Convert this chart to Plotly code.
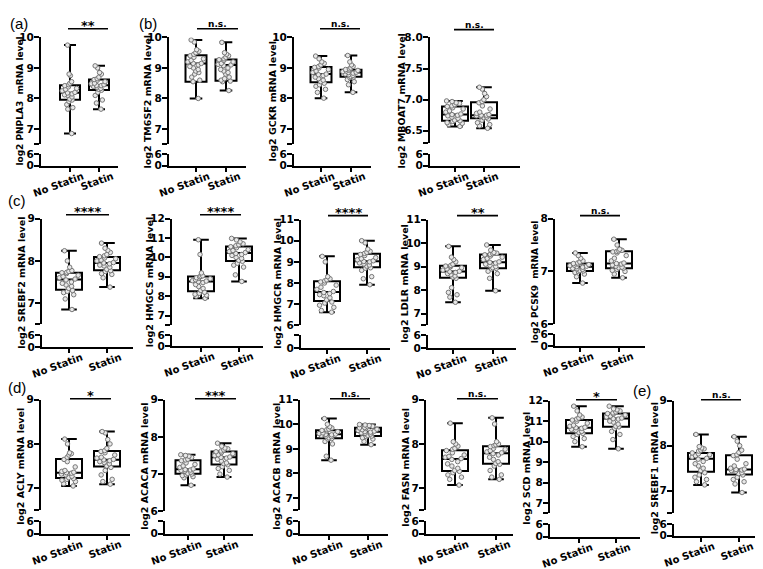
import plotly.graph_objects as go

W, H = 763, 569

# ---------------- data ----------------
categories = ["No Statin", "Statin"]
genes = ["PNPLA3", "TM6SF2", "GCKR", "MBOAT7", "SREBF2", "HMGCS", "HMGCR", "LDLR",
         "PCSK9", "ACLY", "ACACA", "ACACB", "FASN", "SCD", "SREBF1"]
y_titles = ["log2 PNPLA3\u00a0 mRNA level", "log2 TM6SF2 mRNA level", "log2 GCKR mRNA level",
            "log2 MBOAT7 mRNA level", "log2 SREBF2 mRNA level", "log2 HMGCS mRNA level",
            "log2 HMGCR mRNA level", "log2 LDLR mRNA level", "log2 PCSK9\u00a0 mRNA level",
            "log2 ACLY mRNA level", "log2 ACACA mRNA level", "log2 ACACB mRNA level",
            "log2 FASN mRNA level", "log2 SCD mRNA level", "log2 SREBF1 mRNA level"]
significance = ["**", "n.s.", "n.s.", "n.s.", "****", "****", "****", "**", "n.s.",
                "*", "***", "n.s.", "n.s.", "*", "n.s."]
panel_letters = ["(a)", "(b)", "(c)", "(d)", "(e)"]

upper_ticks = [[7, 8, 9, 10], [7, 8, 9, 10], [7, 8, 9, 10], [6.5, 7.0, 7.5, 8.0],
               [7, 8, 9], [7, 8, 9, 10, 11, 12], [6, 7, 8, 9, 10, 11], [7, 8, 9, 10, 11],
               [6, 7, 8], [7, 8, 9], [6, 7, 8, 9], [7, 8, 9, 10, 11], [7, 8, 9],
               [7, 8, 9, 10, 11, 12], [7, 8, 9]]
upper_min = [6.5, 6.5, 6.5, 6.3, 6.5, 6.5, 6.0, 6.5, 6.0, 6.5, 6.0, 6.5, 6.5, 6.5, 6.5]
lower_ticks = [0, 6]
lower_top_labelled = [True, True, True, True, True, True, False, True, True,
                      True, False, True, True, True, True]

# box statistics: [min, q1, median, q3, max]
PNPLA3_no_box = [6.85, 7.96, 8.19, 8.43, 9.75]
PNPLA3_st_box = [7.65, 8.28, 8.43, 8.62, 9.07]
TM6SF2_no_box = [8.00, 8.55, 9.15, 9.42, 9.92]
TM6SF2_st_box = [8.26, 8.58, 9.10, 9.28, 9.84]
GCKR_no_box = [8.01, 8.53, 8.80, 9.03, 9.39]
GCKR_st_box = [8.20, 8.71, 8.85, 8.94, 9.41]
MBOAT7_no_box = [6.57, 6.66, 6.76, 6.89, 6.98]
MBOAT7_st_box = [6.54, 6.70, 6.75, 6.96, 7.20]
SREBF2_no_box = [6.85, 7.32, 7.56, 7.72, 8.24]
SREBF2_st_box = [7.38, 7.78, 7.95, 8.09, 8.42]
HMGCS_no_box = [7.89, 8.26, 8.76, 9.02, 10.91]
HMGCS_st_box = [8.76, 9.82, 10.22, 10.56, 10.98]
HMGCR_no_box = [6.62, 7.15, 7.57, 8.08, 9.26]
HMGCR_st_box = [7.92, 8.74, 9.03, 9.38, 10.00]
LDLR_no_box = [7.48, 8.52, 8.79, 9.03, 9.86]
LDLR_st_box = [7.97, 8.93, 9.18, 9.51, 9.92]
PCSK9_no_box = [6.78, 7.01, 7.09, 7.15, 7.35]
PCSK9_st_box = [6.88, 7.06, 7.15, 7.38, 7.61]
ACLY_no_box = [7.05, 7.23, 7.35, 7.66, 8.11]
ACLY_st_box = [7.09, 7.49, 7.64, 7.84, 8.28]
ACACA_no_box = [6.70, 7.01, 7.13, 7.37, 7.52]
ACACA_st_box = [6.92, 7.26, 7.45, 7.61, 7.83]
ACACB_no_box = [8.54, 9.43, 9.59, 9.76, 10.23]
ACACB_st_box = [9.17, 9.52, 9.70, 9.86, 9.99]
FASN_no_box = [7.07, 7.39, 7.66, 7.86, 8.47]
FASN_st_box = [7.20, 7.55, 7.79, 7.95, 8.59]
SCD_no_box = [9.75, 10.41, 10.68, 11.05, 11.73]
SCD_st_box = [9.65, 10.73, 11.13, 11.37, 11.73]
SREBF1_no_box = [7.13, 7.42, 7.71, 7.84, 8.25]
SREBF1_st_box = [6.96, 7.36, 7.47, 7.79, 8.20]

# individual samples (estimated from the dots)
PNPLA3_no = [6.85, 7.65, 7.7, 7.8, 7.9, 7.95, 7.98, 8.05, 8.1, 8.12, 8.15, 8.18, 8.2, 8.25, 8.3, 8.33, 8.38, 8.42, 8.45, 8.5, 8.55, 8.75, 8.8, 9.75]
PNPLA3_st = [7.65, 7.85, 7.95, 8.1, 8.2, 8.27, 8.3, 8.33, 8.37, 8.4, 8.42, 8.43, 8.45, 8.48, 8.5, 8.55, 8.6, 8.62, 8.65, 8.7, 8.8, 8.85, 9.0, 9.07]
TM6SF2_no = [8.0, 8.55, 8.6, 8.7, 8.8, 8.85, 8.9, 8.95, 9.0, 9.05, 9.1, 9.15, 9.15, 9.2, 9.25, 9.3, 9.35, 9.4, 9.45, 9.5, 9.55, 9.6, 9.85, 9.92]
TM6SF2_st = [8.26, 8.55, 8.57, 8.6, 8.65, 8.7, 8.8, 8.85, 8.9, 8.95, 9.0, 9.08, 9.1, 9.12, 9.15, 9.2, 9.25, 9.27, 9.3, 9.35, 9.4, 9.45, 9.5, 9.84]
GCKR_no = [8.01, 8.2, 8.3, 8.4, 8.45, 8.5, 8.55, 8.6, 8.65, 8.7, 8.75, 8.78, 8.8, 8.85, 8.9, 8.95, 9.0, 9.02, 9.05, 9.1, 9.15, 9.2, 9.3, 9.39]
GCKR_st = [8.2, 8.45, 8.55, 8.62, 8.68, 8.7, 8.72, 8.75, 8.78, 8.8, 8.83, 8.85, 8.86, 8.88, 8.9, 8.92, 8.93, 8.95, 8.97, 9.0, 9.05, 9.1, 9.2, 9.41]
MBOAT7_no = [6.57, 6.6, 6.62, 6.63, 6.65, 6.66, 6.67, 6.7, 6.72, 6.74, 6.75, 6.76, 6.77, 6.8, 6.82, 6.85, 6.87, 6.89, 6.9, 6.92, 6.94, 6.95, 6.97, 6.98]
MBOAT7_st = [6.54, 6.58, 6.6, 6.63, 6.67, 6.69, 6.71, 6.72, 6.73, 6.74, 6.75, 6.75, 6.76, 6.78, 6.8, 6.85, 6.9, 6.95, 6.97, 7.0, 7.05, 7.1, 7.17, 7.2]
SREBF2_no = [6.85, 7.1, 7.2, 7.25, 7.28, 7.3, 7.35, 7.4, 7.43, 7.47, 7.5, 7.55, 7.57, 7.6, 7.63, 7.66, 7.7, 7.72, 7.73, 7.75, 7.77, 7.85, 8.0, 8.24]
SREBF2_st = [7.38, 7.6, 7.68, 7.7, 7.75, 7.77, 7.8, 7.85, 7.88, 7.9, 7.93, 7.95, 7.96, 8.0, 8.02, 8.05, 8.07, 8.1, 8.12, 8.15, 8.2, 8.25, 8.3, 8.42]
HMGCS_no = [7.89, 8.0, 8.05, 8.1, 8.15, 8.2, 8.3, 8.4, 8.5, 8.6, 8.7, 8.75, 8.78, 8.8, 8.85, 8.9, 8.92, 8.95, 9.0, 9.02, 9.05, 9.2, 10.15, 10.91]
HMGCS_st = [8.76, 9.1, 9.5, 9.6, 9.7, 9.8, 9.85, 9.95, 10.0, 10.1, 10.15, 10.2, 10.25, 10.3, 10.35, 10.4, 10.5, 10.55, 10.6, 10.65, 10.7, 10.8, 10.9, 10.98]
HMGCR_no = [6.62, 6.7, 6.85, 6.95, 7.05, 7.1, 7.2, 7.3, 7.4, 7.45, 7.5, 7.55, 7.6, 7.7, 7.8, 7.9, 8.0, 8.05, 8.1, 8.15, 8.2, 8.3, 9.0, 9.26]
HMGCR_st = [7.92, 8.2, 8.3, 8.6, 8.7, 8.72, 8.8, 8.85, 8.9, 8.95, 9.0, 9.02, 9.05, 9.1, 9.15, 9.2, 9.3, 9.35, 9.4, 9.45, 9.5, 9.6, 9.9, 10.0]
LDLR_no = [7.48, 7.7, 7.8, 7.9, 8.1, 8.5, 8.55, 8.6, 8.65, 8.7, 8.75, 8.78, 8.8, 8.85, 8.9, 8.95, 9.0, 9.02, 9.05, 9.1, 9.2, 9.3, 9.4, 9.86]
LDLR_st = [7.97, 8.5, 8.7, 8.8, 8.9, 8.92, 8.95, 9.0, 9.05, 9.1, 9.15, 9.18, 9.2, 9.3, 9.35, 9.4, 9.45, 9.5, 9.52, 9.55, 9.57, 9.6, 9.7, 9.92]
PCSK9_no = [6.78, 6.9, 6.95, 6.98, 7.0, 7.01, 7.02, 7.04, 7.05, 7.06, 7.08, 7.09, 7.1, 7.11, 7.12, 7.13, 7.14, 7.15, 7.16, 7.18, 7.2, 7.25, 7.3, 7.35]
PCSK9_st = [6.88, 6.95, 7.0, 7.02, 7.04, 7.06, 7.07, 7.08, 7.1, 7.12, 7.14, 7.15, 7.16, 7.2, 7.25, 7.3, 7.35, 7.37, 7.38, 7.39, 7.4, 7.42, 7.5, 7.61]
ACLY_no = [7.05, 7.1, 7.15, 7.18, 7.2, 7.22, 7.24, 7.27, 7.3, 7.32, 7.34, 7.35, 7.36, 7.38, 7.4, 7.48, 7.6, 7.65, 7.7, 7.75, 7.78, 7.8, 8.0, 8.11]
ACLY_st = [7.09, 7.15, 7.2, 7.3, 7.4, 7.47, 7.5, 7.55, 7.58, 7.6, 7.62, 7.64, 7.65, 7.68, 7.7, 7.75, 7.8, 7.83, 7.85, 7.9, 8.0, 8.1, 8.25, 8.28]
ACACA_no = [6.7, 6.9, 6.93, 6.96, 6.98, 7.0, 7.02, 7.05, 7.08, 7.1, 7.11, 7.12, 7.14, 7.18, 7.22, 7.26, 7.3, 7.36, 7.38, 7.4, 7.45, 7.48, 7.5, 7.52]
ACACA_st = [6.92, 7.0, 7.1, 7.15, 7.2, 7.25, 7.28, 7.3, 7.35, 7.4, 7.43, 7.45, 7.46, 7.5, 7.52, 7.55, 7.58, 7.6, 7.62, 7.65, 7.68, 7.7, 7.75, 7.83]
ACACB_no = [8.54, 8.7, 9.2, 9.3, 9.4, 9.42, 9.45, 9.5, 9.52, 9.55, 9.57, 9.59, 9.6, 9.62, 9.65, 9.7, 9.73, 9.75, 9.78, 9.8, 9.85, 9.9, 10.0, 10.23]
ACACB_st = [9.17, 9.3, 9.4, 9.45, 9.5, 9.52, 9.55, 9.6, 9.63, 9.65, 9.68, 9.7, 9.72, 9.75, 9.78, 9.8, 9.83, 9.85, 9.87, 9.9, 9.92, 9.95, 9.97, 9.99]
FASN_no = [7.07, 7.2, 7.25, 7.3, 7.35, 7.38, 7.4, 7.45, 7.5, 7.55, 7.6, 7.65, 7.67, 7.7, 7.72, 7.75, 7.8, 7.85, 7.88, 7.9, 7.95, 8.0, 8.05, 8.47]
FASN_st = [7.2, 7.25, 7.3, 7.4, 7.5, 7.54, 7.56, 7.6, 7.65, 7.7, 7.75, 7.78, 7.8, 7.82, 7.85, 7.88, 7.9, 7.94, 7.96, 7.98, 8.0, 8.05, 8.45, 8.59]
SCD_no = [9.75, 10.0, 10.15, 10.25, 10.35, 10.4, 10.45, 10.5, 10.55, 10.6, 10.65, 10.68, 10.7, 10.75, 10.8, 10.9, 11.0, 11.05, 11.1, 11.15, 11.2, 11.3, 11.5, 11.73]
SCD_st = [9.65, 10.1, 10.35, 10.5, 10.65, 10.72, 10.75, 10.85, 10.95, 11.0, 11.1, 11.12, 11.15, 11.2, 11.25, 11.3, 11.35, 11.37, 11.4, 11.45, 11.5, 11.55, 11.6, 11.73]
SREBF1_no = [7.13, 7.2, 7.25, 7.3, 7.35, 7.4, 7.45, 7.5, 7.55, 7.6, 7.65, 7.7, 7.72, 7.75, 7.78, 7.8, 7.82, 7.84, 7.88, 7.9, 7.93, 7.95, 7.98, 8.25]
SREBF1_st = [6.96, 7.15, 7.2, 7.25, 7.3, 7.35, 7.38, 7.4, 7.43, 7.45, 7.46, 7.47, 7.48, 7.5, 7.55, 7.6, 7.7, 7.78, 7.8, 7.85, 7.9, 8.0, 8.1, 8.2]

g = globals()
samples = [(g[f"{n}_no"], g[f"{n}_st"]) for n in genes]
box_stats = [(g[f"{n}_no_box"], g[f"{n}_st_box"]) for n in genes]

# ---------------- layout geometry (pixels) ----------------
geom = [
    dict(ax=33, xend=110, c0=62, c1=91, ytop=24, yub=133, ylt=143, yz=155, bar=(60, 100, 15), bw=20, tx=21, ts=9.0),
    dict(ax=161, xend=238, c0=188, c1=218, ytop=24, yub=133, ylt=143, yz=155, bar=(189, 230, 15), bw=21, tx=21, ts=9.5),
    dict(ax=286, xend=363, c0=313, c1=343, ytop=24, yub=133, ylt=143, yz=155, bar=(312, 352, 15), bw=21, tx=21, ts=9.5),
    dict(ax=422, xend=512, c0=447, c1=476, ytop=24, yub=132, ylt=143, yz=155, bar=(446, 486, 16), bw=26, tx=28, ts=9.5),
    dict(ax=34, xend=125, c0=61, c1=99, ytop=209, yub=317, ylt=328, yz=340, bar=(58, 101, 205), bw=26, tx=20, ts=9.5),
    dict(ax=164, xend=255, c0=193, c1=231, ytop=209, yub=318, ylt=328, yz=339, bar=(192, 233, 205), bw=26, tx=23, ts=9.5),
    dict(ax=293, xend=382, c0=319, c1=359, ytop=210, yub=318, ylt=328, yz=341, bar=(320, 360, 206), bw=26, tx=23, ts=9.5),
    dict(ax=420, xend=508, c0=445, c1=485, ytop=210, yub=318, ylt=328, yz=341, bar=(449, 490, 206), bw=26, tx=23, ts=9.5),
    dict(ax=547, xend=637, c0=572, c1=611, ytop=209, yub=317, ylt=327, yz=339, bar=(572, 612, 206), bw=26, tx=20, ts=9.0),
    dict(ax=33, xend=122, c0=61, c1=99, ytop=394, yub=507, ylt=518, yz=531, bar=(62, 103, 393), bw=26, tx=20, ts=9.5),
    dict(ax=157, xend=245, c0=180, c1=216, ytop=394, yub=508, ylt=518, yz=531, bar=(187, 228, 393), bw=25, tx=20, ts=9.5),
    dict(ax=292, xend=380, c0=321, c1=360, ytop=394, yub=507, ylt=518, yz=531, bar=(322, 362, 393), bw=26, tx=23, ts=9.5),
    dict(ax=418, xend=505, c0=447, c1=488, ytop=394, yub=507, ylt=518, yz=531, bar=(449, 490, 393), bw=26, tx=20, ts=9.5),
    dict(ax=542, xend=632, c0=571, c1=608, ytop=395, yub=510, ylt=521, yz=534, bar=(568, 609, 394), bw=26, tx=23, ts=9.5),
    dict(ax=666, xend=758, c0=693, c1=731, ytop=395, yub=510, ylt=521, yz=533, bar=(693, 733, 394), bw=26, tx=20, ts=9.5),
]
letter_pos = [(11, 10), (140, 10), (9, 191), (9, 382), (634, 385)]

FONT = "DejaVu Sans"
TICKF = dict(family=FONT, size=10.5, color="black", weight="bold")


def px(x):
    return x / W


def py(y):
    return 1 - y / H


def axname(k):
    return "" if k == 1 else str(k)


fig = go.Figure()
layout = dict(width=W, height=H, autosize=False, margin=dict(l=0, r=0, t=0, b=0),
              paper_bgcolor="white", plot_bgcolor="white", showlegend=False,
              boxmode="overlay", font=dict(family=FONT, color="black"))
annotations, shapes = [], []
axis_common = dict(showline=True, linecolor="black", linewidth=2, ticks="outside",
                   tickcolor="black", tickwidth=2, showgrid=False, zeroline=False,
                   fixedrange=True)

n = len(genes)
for i, gname in enumerate(genes):
    k = i + 1
    gm = geom[i]
    unit = gm["c1"] - gm["c0"]
    xmin = -(gm["c0"] - gm["ax"]) / unit
    xmax = 1 + (gm["xend"] - gm["c1"]) / unit
    bw = gm["bw"] / unit
    xa, ya_up, ya_lo = "x" + axname(k), "y" + axname(k), "y" + axname(k + n)

    layout["xaxis" + axname(k)] = dict(axis_common, domain=[px(gm["ax"]), px(gm["xend"])],
                                       range=[xmin, xmax], anchor=ya_lo, tickvals=[0, 1],
                                       showticklabels=False, ticklen=4)
    tv = list(upper_ticks[i])
    tt = [f"{v:.1f}" if gname == "MBOAT7" else f"{v:g}" for v in tv]
    if upper_min[i] not in tv:
        tv = [upper_min[i]] + tv
        tt = [""] + tt
    layout["yaxis" + axname(k)] = dict(axis_common, domain=[py(gm["yub"]), py(gm["ytop"])],
                                       range=[upper_min[i], tv[-1]], anchor=xa,
                                       tickvals=tv, ticktext=tt, ticklen=5, tickfont=TICKF,
                                       ticklabelstandoff=-2)
    layout["yaxis" + axname(k + n)] = dict(axis_common, domain=[py(gm["yz"]), py(gm["ylt"])],
                                           range=[0, 6], anchor=xa, tickvals=lower_ticks,
                                           ticktext=["0", "6" if lower_top_labelled[i] else ""],
                                           ticklen=5, tickfont=TICKF, ticklabelstandoff=-2)

    # placeholder trace so the lower (broken) segment subplot exists
    fig.add_trace(go.Scatter(x=[0], y=[-10], mode="markers", marker=dict(opacity=0),
                             xaxis=xa, yaxis=ya_lo, hoverinfo="skip"))

    for j in range(2):
        st = box_stats[i][j]
        fig.add_trace(go.Box(x=[j], lowerfence=[st[0]], q1=[st[1]], median=[st[2]],
                             q3=[st[3]], upperfence=[st[4]], orientation="v",
                             width=bw, whiskerwidth=0.6, fillcolor="white",
                             line=dict(color="black", width=2), boxpoints=False,
                             xaxis=xa, yaxis=ya_up, hoverinfo="skip", name=categories[j]))
        fig.add_trace(go.Box(y=samples[i][j], x0=j, width=bw, boxpoints="all",
                             jitter=0.8, pointpos=0, fillcolor="rgba(0,0,0,0)",
                             line=dict(color="rgba(0,0,0,0)", width=0), whiskerwidth=0,
                             marker=dict(symbol="circle", size=4.5, color="rgba(232,232,232,1)",
                                         line=dict(color="#777777", width=1)),
                             xaxis=xa, yaxis=ya_up, hoverinfo="skip", name=categories[j]))

    # category labels
    for j, cx in enumerate((gm["c0"], gm["c1"])):
        annotations.append(dict(text=categories[j], x=px(cx + 18), y=py(gm["yz"] + 2),
                                xref="paper", yref="paper", xanchor="right", yanchor="top",
                                textangle=-20, showarrow=False,
                                font=dict(family=FONT, size=10, color="black", weight="bold")))
    # y title
    annotations.append(dict(text=y_titles[i], x=px(gm["ax"] - gm["tx"]),
                            y=py((gm["ytop"] + gm["yz"]) / 2), xref="paper", yref="paper",
                            xanchor="center", yanchor="middle", textangle=-90,
                            showarrow=False,
                            font=dict(family=FONT, size=gm["ts"], color="black", weight="bold")))
    # significance
    bx0, bx1, by = gm["bar"]
    shapes.append(dict(type="line", xref="paper", yref="paper", x0=px(bx0), x1=px(bx1),
                       y0=py(by), y1=py(by), line=dict(color="black", width=1.6)))
    sig = significance[i]
    if sig.startswith("*"):
        annotations.append(dict(text=sig, x=px((bx0 + bx1) / 2), y=py(by + 6),
                                xref="paper", yref="paper", xanchor="center",
                                yanchor="bottom", showarrow=False,
                                font=dict(family=FONT, size=13, color="black", weight="bold")))
    else:
        annotations.append(dict(text=sig, x=px((bx0 + bx1) / 2), y=py(by + 2),
                                xref="paper", yref="paper", xanchor="center",
                                yanchor="bottom", showarrow=False,
                                font=dict(family=FONT, size=9, color="black", weight="bold")))

for lt, (lx, ly) in zip(panel_letters, letter_pos):
    annotations.append(dict(text=lt, x=px(lx), y=py(ly), xref="paper", yref="paper",
                            xanchor="center", yanchor="middle", showarrow=False,
                            font=dict(family="Liberation Sans", size=15, color="black")))

layout["annotations"] = annotations
layout["shapes"] = shapes
fig.update_layout(**layout)
fig.write_html("out.html")
